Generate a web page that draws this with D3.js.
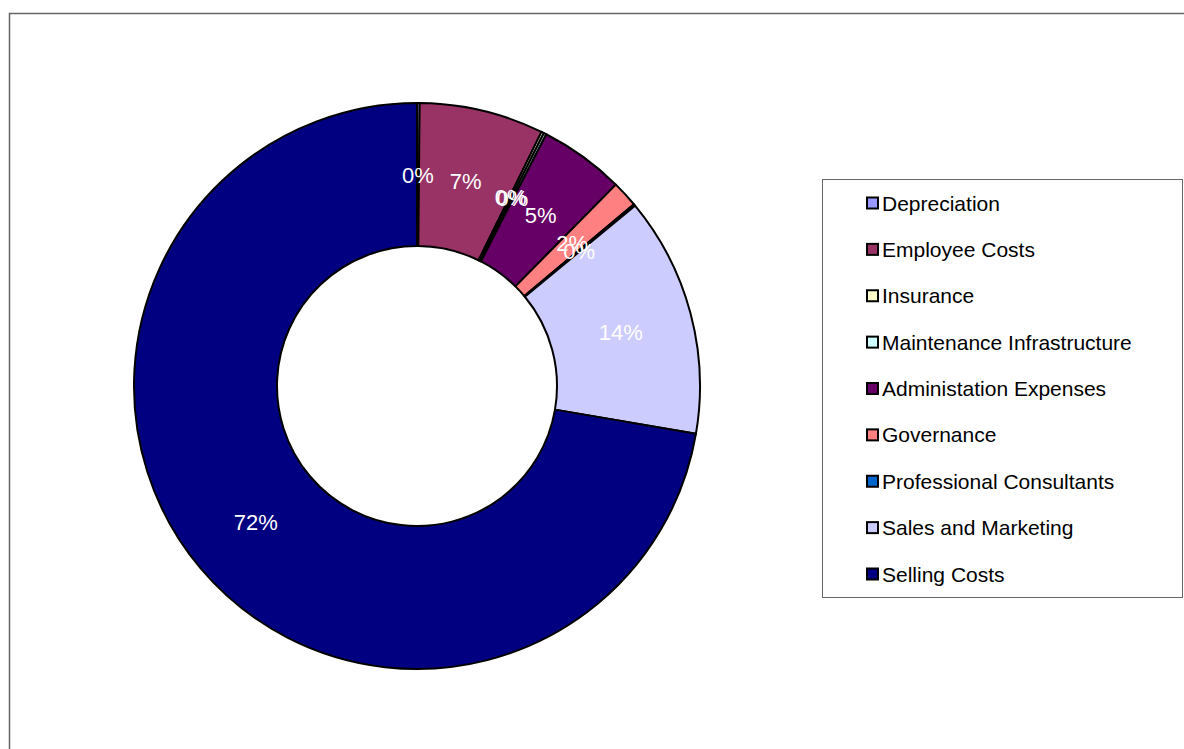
<!DOCTYPE html>
<html>
<head>
<meta charset="utf-8">
<script src="https://cdn.jsdelivr.net/npm/d3@7"></script>
<style>
  body { margin: 0; background: #fff; }
  svg { display: block; font-family: Arial, "Liberation Sans", sans-serif; }
</style>
</head>
<body>
<script>
// cost categories, in legend / slice order
var categories = [
  "Depreciation",
  "Employee Costs",
  "Insurance",
  "Maintenance Infrastructure",
  "Administation Expenses",
  "Governance",
  "Professional Consultants",
  "Sales and Marketing",
  "Selling Costs"
];

// share of total (%)
var values = [0.15, 7.1, 0.15, 0.15, 4.85, 1.5, 0.1, 13.7, 72.3];

var colors = ["#9999FF", "#993366", "#FFFFCC", "#CCFFFF", "#660066",
              "#FF8080", "#0066CC", "#CCCCFF", "#000080"];

var W = 1184, H = 749;
var cx = 417, cy = 386,
    outerR = 283, innerR = 140;

var svg = d3.select("body").append("svg")
  .attr("width", W)
  .attr("height", H);

// chart area frame (runs off the right and bottom edges)
svg.append("rect")
  .attr("x", 9.5).attr("y", 13.5)
  .attr("width", W + 20).attr("height", H + 20)
  .attr("fill", "#fff")
  .attr("stroke", "#666")
  .attr("stroke-width", 1.5);

var data = categories.map(function(c, i) {
  return { name: c, value: values[i], color: colors[i] };
});

var pie = d3.pie()
  .sort(null)
  .value(function(d) { return d.value; });

var arc = d3.arc()
  .innerRadius(innerR)
  .outerRadius(outerR);

var labelArc = d3.arc()
  .innerRadius(211)
  .outerRadius(211);

var total = d3.sum(values);
var arcs = pie(data);

var g = svg.append("g")
  .attr("transform", "translate(" + cx + "," + cy + ")");

g.selectAll("path.slice")
  .data(arcs)
  .enter().append("path")
  .attr("class", "slice")
  .attr("d", arc)
  .attr("fill", function(d) { return d.data.color; })
  .attr("stroke", "#000")
  .attr("stroke-width", 2)
  .attr("stroke-linejoin", "round");

g.selectAll("text.lbl")
  .data(arcs)
  .enter().append("text")
  .attr("class", "lbl")
  .attr("transform", function(d) { return "translate(" + labelArc.centroid(d) + ")"; })
  .attr("text-anchor", "middle")
  .attr("dy", "0.36em")
  .attr("fill", "#fff")
  .style("font-size", "22px")
  .text(function(d) { return Math.round(d.data.value / total * 100) + "%"; });

// legend
var legend = svg.append("g")
  .attr("transform", "translate(822,179)");

legend.append("rect")
  .attr("x", 0.5).attr("y", 0.5)
  .attr("width", 360).attr("height", 418)
  .attr("fill", "#fff")
  .attr("stroke", "#666")
  .attr("stroke-width", 1);

var ly = d3.scalePoint()
  .domain(categories)
  .range([24, 395]);

var item = legend.selectAll("g.item")
  .data(data)
  .enter().append("g")
  .attr("class", "item")
  .attr("transform", function(d) { return "translate(0," + ly(d.name) + ")"; });

item.append("rect")
  .attr("x", 45).attr("y", -5.5)
  .attr("width", 11).attr("height", 11)
  .attr("fill", function(d) { return d.color; })
  .attr("stroke", "#000")
  .attr("stroke-width", 2);

item.append("text")
  .attr("x", 60)
  .attr("dy", "0.36em")
  .attr("fill", "#000")
  .style("font-size", "21px")
  .text(function(d) { return d.name; });
</script>
</body>
</html>
